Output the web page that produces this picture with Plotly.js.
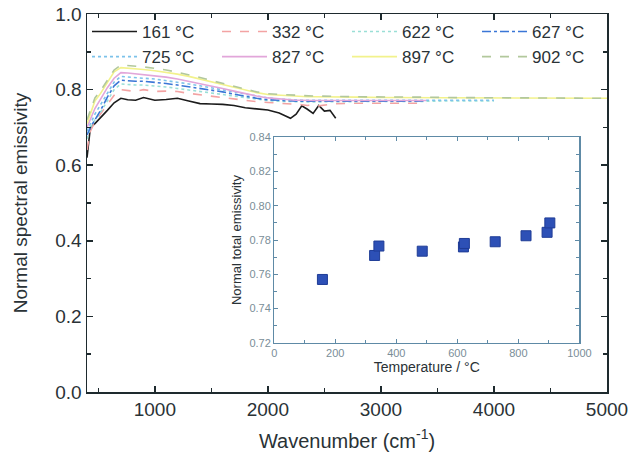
<!DOCTYPE html>
<html>
<head>
<meta charset="utf-8">
<script src="https://cdn.plot.ly/plotly-3.0.1.min.js"></script>
<style>html,body{margin:0;padding:0;background:#fff;}#chart{width:633px;height:466px;}</style>
</head>
<body>
<div id="chart"></div>
<script>
// Wavenumber grid (cm^-1)
const wavenumber = [400, 430, 470, 520, 580, 640, 700, 760, 830, 900, 1000, 1100, 1200, 1300, 1400, 1500, 1600, 1700, 1800, 1900, 2000, 2100, 2200, 2250, 2300, 2350, 2400, 2450, 2500, 2550, 2600, 2800, 3000, 3200, 3400, 3600, 3800, 4000, 4200, 4400, 4600, 4800, 5000];

const seriesNames = ["161 °C", "332 °C", "622 °C", "627 °C", "725 °C", "827 °C", "897 °C", "902 °C"];

const e161 = [0.62, 0.70, 0.71, 0.725, 0.745, 0.765, 0.777, 0.773, 0.772, 0.779, 0.772, 0.774, 0.777, 0.770, 0.763, 0.762, 0.761, 0.758, 0.752, 0.749, 0.746, 0.738, 0.724, 0.735, 0.757, 0.748, 0.737, 0.758, 0.743, 0.745, 0.724];
const e332 = [0.64, 0.69, 0.715, 0.735, 0.76, 0.785, 0.80, 0.797, 0.795, 0.80, 0.795, 0.796, 0.795, 0.790, 0.786, 0.783, 0.779, 0.775, 0.771, 0.768, 0.766, 0.764, 0.763, 0.762, 0.760, 0.758, 0.760, 0.757, 0.759, 0.761, 0.763, 0.764, 0.764, 0.765, 0.764];
const e622 = [0.67, 0.70, 0.72, 0.74, 0.77, 0.80, 0.815, 0.813, 0.812, 0.812, 0.81, 0.807, 0.803, 0.799, 0.795, 0.791, 0.787, 0.782, 0.778, 0.774, 0.771, 0.769, 0.768, 0.768, 0.767, 0.767, 0.767, 0.767, 0.768, 0.768, 0.768, 0.768, 0.769, 0.769, 0.769, 0.77, 0.77, 0.77];
const e627 = [0.68, 0.70, 0.72, 0.745, 0.78, 0.81, 0.825, 0.823, 0.822, 0.822, 0.82, 0.816, 0.812, 0.808, 0.804, 0.80, 0.794, 0.788, 0.782, 0.777, 0.773, 0.771, 0.770, 0.769, 0.769, 0.769, 0.769, 0.768, 0.769, 0.769, 0.769, 0.769, 0.769, 0.769, 0.770];
const e725 = [0.69, 0.71, 0.735, 0.76, 0.79, 0.82, 0.835, 0.834, 0.832, 0.83, 0.828, 0.824, 0.82, 0.815, 0.81, 0.805, 0.80, 0.794, 0.788, 0.782, 0.778, 0.775, 0.773, 0.772, 0.772, 0.772, 0.772, 0.772, 0.772, 0.772, 0.772, 0.772, 0.772, 0.772, 0.772, 0.772, 0.772, 0.772];
const e827 = [0.70, 0.72, 0.75, 0.775, 0.805, 0.83, 0.845, 0.844, 0.842, 0.84, 0.837, 0.833, 0.828, 0.822, 0.816, 0.81, 0.803, 0.796, 0.789, 0.783, 0.778, 0.775, 0.773, 0.772, 0.772, 0.771, 0.771, 0.771, 0.771, 0.771, 0.771, 0.771, 0.771, 0.771, 0.771];
const e897 = [0.71, 0.735, 0.77, 0.79, 0.82, 0.847, 0.858, 0.857, 0.855, 0.853, 0.85, 0.846, 0.841, 0.835, 0.828, 0.821, 0.813, 0.805, 0.798, 0.792, 0.787, 0.785, 0.783, 0.782, 0.782, 0.781, 0.781, 0.781, 0.780, 0.780, 0.780, 0.780, 0.779, 0.779, 0.779, 0.778, 0.778, 0.778, 0.778, 0.777, 0.777, 0.777, 0.777];
const e902 = [0.72, 0.745, 0.778, 0.797, 0.826, 0.852, 0.865, 0.864, 0.862, 0.86, 0.856, 0.852, 0.846, 0.84, 0.832, 0.824, 0.816, 0.808, 0.80, 0.794, 0.789, 0.787, 0.785, 0.784, 0.784, 0.783, 0.783, 0.783, 0.782, 0.782, 0.782, 0.781, 0.781, 0.780, 0.780, 0.779, 0.779, 0.779, 0.778, 0.778, 0.778, 0.777, 0.777];

const seriesValues = [e161, e332, e622, e627, e725, e827, e897, e902];
const seriesColors = ["#1c1c1c", "#f3a3a3", "#9adfd6", "#3a76d6", "#7cc2ea", "#e2a6da", "#f2f28c", "#b2c89c"];
const seriesDash = ["solid", "dash", "dot", "dashdot", "dot", "solid", "solid", "dash"];

// Inset: normal total emissivity vs temperature
const insetTemp = [158, 329, 343, 485, 620, 623, 724, 825, 894, 903];
const insetEmis = [0.757, 0.771, 0.7765, 0.7735, 0.776, 0.778, 0.779, 0.7825, 0.7845, 0.790];

const traces = seriesNames.map((n, i) => ({
  type: "scatter", mode: "lines", name: n,
  x: wavenumber.slice(0, seriesValues[i].length), y: seriesValues[i],
  line: {color: seriesColors[i], dash: seriesDash[i], width: 1.6},
  xaxis: "x", yaxis: "y"
}));
traces.push({
  type: "scatter", mode: "markers", x: insetTemp, y: insetEmis, showlegend: false,
  marker: {symbol: "square", size: 10, color: "#2d50b6", line: {color: "#1f3c96", width: 1}},
  xaxis: "x2", yaxis: "y2"
});

const mainAxis = {
  showline: true, linecolor: "#1e2a2e", linewidth: 1.5, mirror: "allticks",
  ticks: "inside", ticklen: 6, tickwidth: 1.5, tickcolor: "#1e2a2e",
  showgrid: false, zeroline: false,
  tickfont: {family: "Liberation Sans, Arial, sans-serif", size: 19, color: "#2a3236"}
};
const insetAxis = {
  showline: true, linecolor: "#5e8aa6", linewidth: 1.2, mirror: "allticks",
  ticks: "inside", ticklen: 4, tickwidth: 1, tickcolor: "#5e8aa6",
  showgrid: false, zeroline: false,
  tickfont: {family: "Liberation Sans, Arial, sans-serif", size: 11, color: "#7a8e98"}
};

const layout = {
  width: 633, height: 466,
  margin: {l: 87, r: 26, t: 14, b: 74},
  paper_bgcolor: "#fff", plot_bgcolor: "#fff",
  font: {family: "Liberation Sans, Arial, sans-serif", color: "#2a3236"},
  showlegend: true,
  legend: {
    orientation: "h", x: 0, y: 1.0, xanchor: "left", yanchor: "top",
    entrywidth: 70, entrywidthmode: "pixels", itemwidth: 45,
    font: {size: 17, color: "#2a3236"}, bgcolor: "rgba(0,0,0,0)", tracegroupgap: 0
  },
  xaxis: Object.assign({}, mainAxis, {
    range: [400, 5000], tick0: 0, dtick: 1000,
    minor: {dtick: 500, ticks: "inside", ticklen: 4, tickcolor: "#1e2a2e"},
    title: {text: "Wavenumber (cm<sup>-1</sup>)", font: {size: 20, color: "#2a3236"}, standoff: 14}
  }),
  yaxis: Object.assign({}, mainAxis, {
    range: [0, 1], dtick: 0.2, tickformat: ".1f",
    minor: {dtick: 0.1, ticks: "inside", ticklen: 4, tickcolor: "#1e2a2e"},
    title: {text: "Normal spectral emissivity", font: {size: 19, color: "#2a3236"}, standoff: 22}
  }),
  xaxis2: Object.assign({}, insetAxis, {
    domain: [0.36, 0.947], anchor: "y2", range: [0, 1000], dtick: 200,
    minor: {dtick: 100, ticks: "inside", ticklen: 3, tickcolor: "#5e8aa6"},
    title: {text: "Temperature / °C", font: {size: 14, color: "#2a3236"}, standoff: 2}
  }),
  yaxis2: Object.assign({}, insetAxis, {
    domain: [0.13, 0.674], anchor: "x2", range: [0.72, 0.84], dtick: 0.02, tickformat: ".2f",
    minor: {dtick: 0.01, ticks: "inside", ticklen: 3, tickcolor: "#5e8aa6"},
    title: {text: "Normal total emissivity", font: {size: 13, color: "#2a3236"}, standoff: 4}
  })
};

Plotly.newPlot("chart", traces, layout, {displayModeBar: false, staticPlot: true});
</script>
</body>
</html>
